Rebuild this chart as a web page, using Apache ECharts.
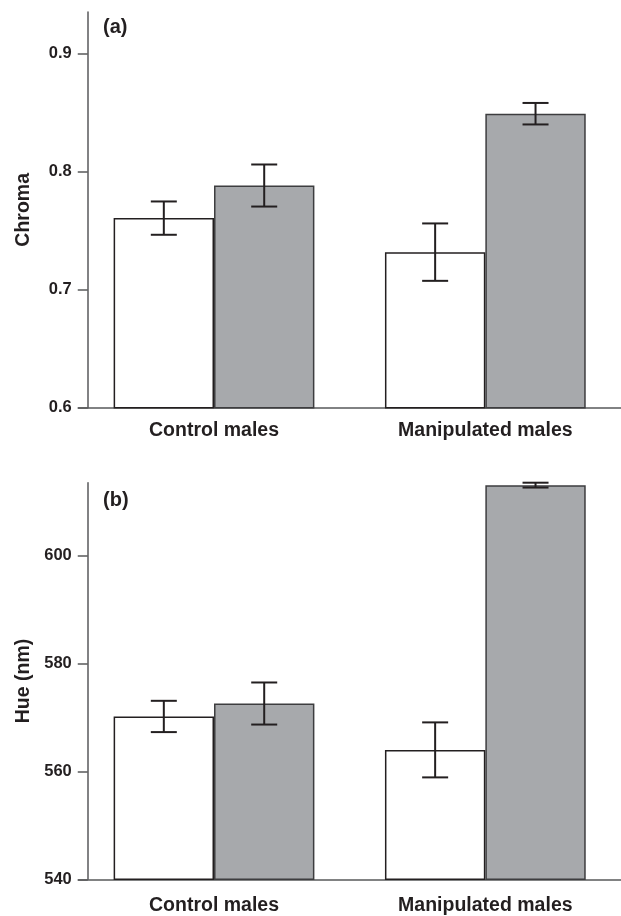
<!DOCTYPE html>
<html>
<head>
<meta charset="utf-8">
<script src="https://cdn.jsdelivr.net/npm/echarts@6/dist/echarts.min.js"></script>
<style>
html,body{margin:0;padding:0;background:#fff;}
#chart{width:621px;height:916px;}
</style>
</head>
<body>
<div id="chart"></div>
<script>
// ---- data ----
const categories = ['Control males', 'Manipulated males'];
const chromaWhite = [0.7605, 0.7317];
const chromaWhiteSE = [0.0141, 0.0243];
const chromaGrey = [0.7881, 0.8489];
const chromaGreySE = [0.0178, 0.0091];
const hueWhite = [570.2, 564.0];
const hueWhiteSE = [2.9, 5.1];
const hueGrey = [572.6, 613.1];
const hueGreySE = [3.9, 0.45];
const chromaTicks = [0.6, 0.7, 0.8, 0.9];
const hueTicks = [540, 560, 580, 600];
const panelLabels = ['(a)', '(b)'];
const yNames = ['Chroma', 'Hue (nm)'];

// ---- styles ----
const FONT = 'Liberation Sans, Arial, Helvetica, sans-serif';
const INK = '#231f20';
const AXIS = '#58595b';
const GREY = '#a7a9ac';
const BAR_FRAC = 0.37;

function errRender(sign) {
  return function (params, api) {
    const c = api.value(0), m = api.value(1), s = api.value(2);
    const band = api.size([1, 0])[0];
    const x = api.coord([c, m])[0] + sign * band * BAR_FRAC / 2;
    const yt = api.coord([c, m + s])[1];
    const yb = api.coord([c, m - s])[1];
    const st = { stroke: INK, lineWidth: 2 };
    return {
      type: 'group',
      children: [
        { type: 'line', shape: { x1: x, y1: yt, x2: x, y2: yb }, style: st },
        { type: 'line', shape: { x1: x - 13, y1: yt, x2: x + 13, y2: yt }, style: st },
        { type: 'line', shape: { x1: x - 13, y1: yb, x2: x + 13, y2: yb }, style: st }
      ]
    };
  };
}

function errData(means, ses) {
  return means.map((m, i) => [i, m, ses[i]]);
}

const grids = [
  { left: 78.35, top: 12, width: 550.6, height: 395.7 },
  { left: 78.35, top: 482.7, width: 550.6, height: 396.6 }
];

function xAxisFor(gi, margin) {
  return {
    type: 'category', gridIndex: gi, data: categories,
    axisLine: { lineStyle: { color: AXIS, width: 1.5 } },
    axisTick: { alignWithLabel: true, length: 12, lineStyle: { color: AXIS, width: 1.5 } },
    axisLabel: { margin: margin, fontFamily: FONT, fontWeight: 'bold', fontSize: 19.5, color: INK }
  };
}
function yAxisFor(gi, min, max, ticks, name, fmt) {
  return {
    type: 'value', gridIndex: gi, min: min, max: max, offset: -9.4,
    name: name, nameLocation: 'middle', nameGap: 54,
    nameTextStyle: { fontFamily: FONT, fontWeight: 'bold', fontSize: 19.5, color: INK },
    splitLine: { show: false },
    axisLine: { show: true, lineStyle: { color: AXIS, width: 1.5 } },
    axisTick: { show: true, length: 10, customValues: ticks, lineStyle: { color: AXIS, width: 1.5 } },
    axisLabel: { margin: 16, customValues: ticks, formatter: fmt,
      fontFamily: FONT, fontWeight: 'bold', fontSize: 16.5, color: INK }
  };
}

const barWhite = { color: '#ffffff', borderColor: INK, borderWidth: 1.5 };
const barGrey = { color: GREY, borderColor: '#3d3d3f', borderWidth: 1.5 };

const option = {
  animation: false,
  backgroundColor: '#ffffff',
  title: [
    { text: panelLabels[0], left: 103, top: 17, padding: 0,
      textStyle: { fontFamily: FONT, fontWeight: 'bold', fontSize: 20, color: INK } },
    { text: panelLabels[1], left: 103, top: 490, padding: 0,
      textStyle: { fontFamily: FONT, fontWeight: 'bold', fontSize: 20, color: INK } }
  ],
  grid: grids,
  xAxis: [xAxisFor(0, 13), xAxisFor(1, 16)],
  yAxis: [
    yAxisFor(0, 0.6, 0.935, chromaTicks, yNames[0], v => v.toFixed(1)),
    yAxisFor(1, 540, 613.55, hueTicks, yNames[1], v => String(Math.round(v)))
  ],
  series: [
    { type: 'bar', xAxisIndex: 0, yAxisIndex: 0, data: chromaWhite, barWidth: (BAR_FRAC * 100) + '%', barGap: '0%', itemStyle: barWhite },
    { type: 'bar', xAxisIndex: 0, yAxisIndex: 0, data: chromaGrey, barWidth: (BAR_FRAC * 100) + '%', barGap: '0%', itemStyle: barGrey },
    { type: 'bar', xAxisIndex: 1, yAxisIndex: 1, data: hueWhite, barWidth: (BAR_FRAC * 100) + '%', barGap: '0%', itemStyle: barWhite },
    { type: 'bar', xAxisIndex: 1, yAxisIndex: 1, data: hueGrey, barWidth: (BAR_FRAC * 100) + '%', barGap: '0%', itemStyle: barGrey },
    { type: 'custom', xAxisIndex: 0, yAxisIndex: 0, z: 5, renderItem: errRender(-1), data: errData(chromaWhite, chromaWhiteSE) },
    { type: 'custom', xAxisIndex: 0, yAxisIndex: 0, z: 5, renderItem: errRender(1), data: errData(chromaGrey, chromaGreySE) },
    { type: 'custom', xAxisIndex: 1, yAxisIndex: 1, z: 5, renderItem: errRender(-1), data: errData(hueWhite, hueWhiteSE) },
    { type: 'custom', xAxisIndex: 1, yAxisIndex: 1, z: 5, renderItem: errRender(1), data: errData(hueGrey, hueGreySE) }
  ]
};

const chart = echarts.init(document.getElementById('chart'), null, { renderer: 'canvas' });
chart.setOption(option);
</script>
</body>
</html>
